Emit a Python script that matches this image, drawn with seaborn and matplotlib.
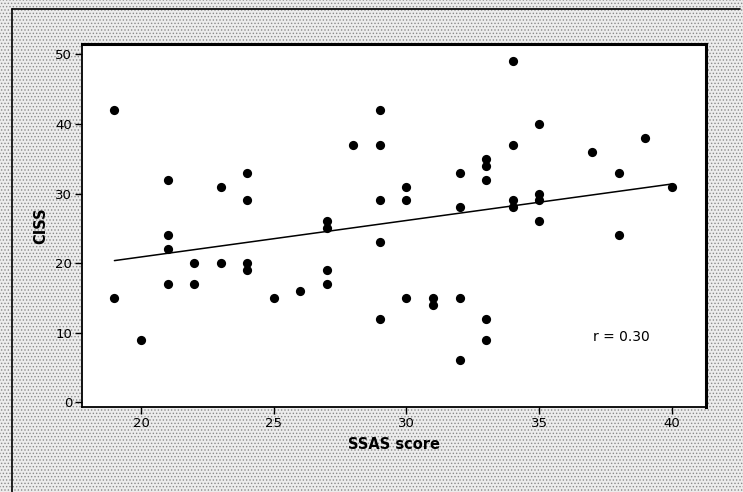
import numpy as np
import pandas as pd
import matplotlib.pyplot as plt
import seaborn as sns
from matplotlib.patches import Rectangle
from matplotlib.lines import Line2D

# values
ssas = [19, 19, 20, 21, 21, 21, 21, 22, 22, 23, 23, 24, 24, 24, 24, 25, 26,
        27, 27, 27, 27, 28, 29, 29, 29, 29, 29, 30, 30, 30, 31, 31,
        32, 32, 32, 32, 33, 33, 33, 33, 33, 34, 34, 34, 34,
        35, 35, 35, 35, 37, 38, 38, 39, 40]
ciss = [42, 15, 9, 32, 24, 22, 17, 20, 17, 31, 20, 33, 29, 20, 19, 15, 16,
        26, 25, 19, 17, 37, 42, 37, 29, 23, 12, 31, 29, 15, 15, 14,
        33, 28, 15, 6, 35, 34, 32, 12, 9, 49, 37, 29, 28,
        40, 30, 29, 26, 36, 33, 24, 38, 31]
x_ticks = [20, 25, 30, 35, 40]
y_ticks = [0, 10, 20, 30, 40, 50]

df = pd.DataFrame({'SSAS score': ssas, 'CISS': ciss})

sns.set_style('ticks')
plt.rcParams['font.family'] = ['DejaVu Sans']
plt.rcParams['hatch.linewidth'] = 0.6

fig = plt.figure(figsize=(7.43, 4.92), dpi=100)
fig.patch.set_facecolor('white')
# dotted halftone-like background
fig.add_artist(Rectangle((0, 0), 1, 1, transform=fig.transFigure, facecolor='#ececec',
                         edgecolor='#8a8a8a', hatch='.....', linewidth=0, zorder=-10))

ax = fig.add_axes([82/743, 1 - 407/492, (706 - 82)/743, (407 - 44)/492])
ax.set_facecolor('white')

sns.regplot(data=df, x='SSAS score', y='CISS', ax=ax, ci=None, truncate=True,
            scatter_kws={'s': 44, 'color': 'black', 'linewidths': 0, 'alpha': 1},
            line_kws={'color': 'black', 'linewidth': 1.1})

ax.set_xlim(17.78, 41.28)
ax.set_ylim(-0.7, 51.5)
ax.set_xticks(x_ticks)
ax.set_yticks(y_ticks)
ax.tick_params(direction='out', length=5, width=1, labelsize=9.5, colors='black', pad=2)
for side in ['left', 'bottom']:
    ax.spines[side].set_linewidth(1.3)
    ax.spines[side].set_color('black')
for side in ['top', 'right']:
    ax.spines[side].set_visible(True)
    ax.spines[side].set_linewidth(2.2)
    ax.spines[side].set_color('black')
ax.set_xlabel('SSAS score', fontsize=10.5, fontweight='bold', labelpad=5, color='black')
ax.set_ylabel('CISS', fontsize=10.5, fontweight='bold', labelpad=5, color='black')

r = np.corrcoef(ssas, ciss)[0, 1]
ax.text(38.1, 9.4, 'r = 0.30', fontsize=10, ha='center', va='center', color='black')

# outer frame of the exported chart (left and top edges)
fig.add_artist(Line2D([12/743, 12/743], [0, 1 - 9/492], color='black', linewidth=1.2))
fig.add_artist(Line2D([12/743, 740/743], [1 - 9/492, 1 - 9/492], color='black', linewidth=1.2))

fig.savefig('out.png', dpi=100)
print('r =', round(r, 3))
